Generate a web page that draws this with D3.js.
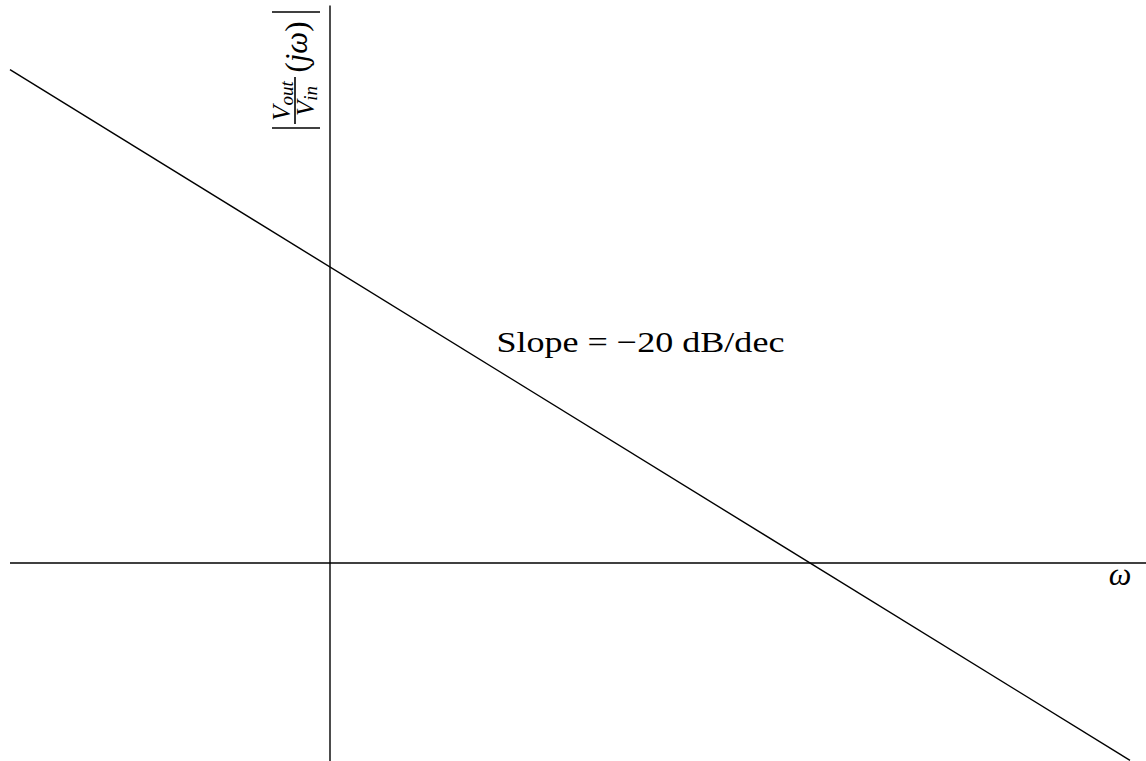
<!DOCTYPE html>
<html>
<head>
<meta charset="utf-8">
<script src="https://cdn.jsdelivr.net/npm/d3@7"></script>
<style>
  html, body { margin: 0; padding: 0; background: #fff; }
  svg { display: block; }
  text { font-family: "Liberation Serif", "DejaVu Serif", serif; fill: #000; }
</style>
</head>
<body>
<svg id="chart" width="1146" height="761"></svg>
<script>
// Asymptotic magnitude line (log-frequency units, gain units)
const omegaPoints = [-2, 5];
const gainPoints = [5, -2];

// Axis extents
const omegaExtent = [-2, 5.1];
const gainExtent = [-2.01, 5.65];

const slopeLabel = "Slope = \u221220 dB/dec";
const slopeLabelPos = [1.04, 2.14];

const svg = d3.select("#chart");

const x = d3.scaleLinear().domain([-2, 5]).range([10, 1130]);
const y = d3.scaleLinear().domain([0, 3]).range([563, 267]);

// Horizontal (ω) axis
svg.append("line")
  .attr("x1", x(omegaExtent[0])).attr("x2", 1146)
  .attr("y1", y(0)).attr("y2", y(0))
  .attr("stroke", "#000").attr("stroke-width", 1.4);

// Vertical (magnitude) axis
svg.append("line")
  .attr("x1", x(0)).attr("x2", x(0))
  .attr("y1", y(gainExtent[1])).attr("y2", y(gainExtent[0]))
  .attr("stroke", "#000").attr("stroke-width", 1.4);

// Magnitude asymptote
const pts = omegaPoints.map((w, i) => [w, gainPoints[i]]);
svg.append("path")
  .attr("d", d3.line().x(d => x(d[0])).y(d => y(d[1]))(pts))
  .attr("fill", "none").attr("stroke", "#000").attr("stroke-width", 1.4);

// Slope annotation
svg.append("text")
  .attr("x", x(slopeLabelPos[0])).attr("y", y(slopeLabelPos[1]))
  .attr("font-size", 30)
  .attr("textLength", 288).attr("lengthAdjust", "spacingAndGlyphs")
  .text(slopeLabel);

// ω label
svg.append("text")
  .attr("x", 1120).attr("y", 585)
  .attr("text-anchor", "middle")
  .attr("font-size", 32).attr("font-style", "italic")
  .text("\u03c9");

// Vertical axis label: |V_out / V_in (jω)|, rotated
const g = svg.append("g").attr("transform", "translate(297,70) rotate(-90)");

// absolute-value bars
[58, -58].forEach(lx => {
  g.append("line")
    .attr("x1", lx).attr("x2", lx).attr("y1", -25).attr("y2", 23)
    .attr("stroke", "#000").attr("stroke-width", 1.4);
});

// fraction bar
g.append("line")
  .attr("x1", -54).attr("x2", -7).attr("y1", -2).attr("y2", -2)
  .attr("stroke", "#000").attr("stroke-width", 1.6);

// numerator V_out
const num = g.append("text").attr("x", -31).attr("y", -7)
  .attr("text-anchor", "middle").attr("font-style", "italic").attr("font-size", 25);
num.append("tspan").text("V");
num.append("tspan").attr("font-size", 19).attr("dy", 3).text("out");

// denominator V_in
const den = g.append("text").attr("x", -31).attr("y", 17)
  .attr("text-anchor", "middle").attr("font-style", "italic").attr("font-size", 25);
den.append("tspan").text("V");
den.append("tspan").attr("font-size", 19).attr("dy", 3).text("in");

// (jω)
const fn = g.append("text").attr("x", 23).attr("y", 10)
  .attr("text-anchor", "middle").attr("font-size", 31);
fn.append("tspan").text("(");
fn.append("tspan").attr("font-style", "italic").text("j\u03c9");
fn.append("tspan").text(")");
</script>
</body>
</html>
